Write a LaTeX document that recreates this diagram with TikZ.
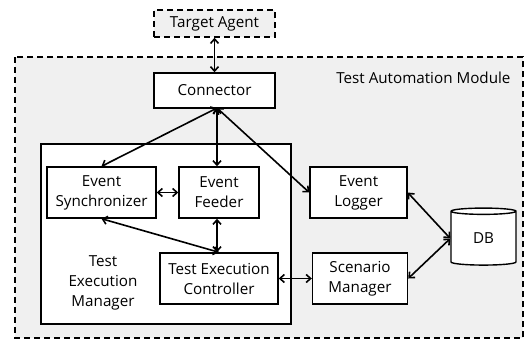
\documentclass[tikz,border=0pt]{standalone}
\usepackage{fontspec}
\setmainfont{Open Sans}
\usetikzlibrary{arrows.meta,shapes.geometric}
\begin{document}
\begin{tikzpicture}[x=1pt,y=-1pt,
  font=\fontsize{15.2}{20}\selectfont,
  box/.style={draw,line width=1.4pt,fill=white,align=center,inner sep=0pt},
  link/.style={line width=1.6pt,{Straight Barb[length=4.5pt,width=8pt]}-{Straight Barb[length=4.5pt,width=8pt]}},
  dashbox/.style={draw,line width=1.5pt,dash pattern=on 6pt off 4pt}
]
\useasboundingbox (0,0) rectangle (529,340);
% outer module
\draw[dashbox,fill=black!6] (15,57) rectangle (523,338);
\node[anchor=east] (tam) at (514,78) {Test Automation Module};
% target agent
\node[box,dashbox,fill=black!6,minimum width=121pt,minimum height=27pt] (ta) at (214.5,23.5) {Target Agent};
% connector
\node[box,minimum width=121pt,minimum height=35pt] (con) at (214.5,90.5) {Connector};
% test execution manager
\node[box,minimum width=250pt,minimum height=180pt] (tem) at (166,234) {};
\node[align=center] (temt) at (103,283) {Test\\Execution\\Manager};
\node[box,minimum width=109pt,minimum height=51pt] (sync) at (101.5,192.5) {Event\\Synchronizer};
\node[box,minimum width=80pt,minimum height=51pt] (feed) at (219,192.5) {Event\\Feeder};
\node[box,minimum width=118pt,minimum height=51pt] (tec) at (219,278.5) {Test Execution\\Controller};
\node[box,minimum width=97pt,minimum height=51pt] (log) at (358.5,192.5) {Event\\Logger};
\node[box,minimum width=95pt,minimum height=51pt] (scen) at (360,278.5) {Scenario\\Manager};
\node[cylinder,shape border rotate=90,draw,line width=1.4pt,fill=white,aspect=0.3,minimum width=65pt,minimum height=57pt,inner sep=0pt] (db) at (483.5,238.5) {DB};
\coordinate (cb) at (217,108);
% connectors
\draw[link] (ta.south) -- (con.north);
\draw[link] (cb) -- (sync.north);
\draw[link] (cb) -- (feed.north -| cb);
\draw[link] (cb) -- (log.west);
\draw[link] (sync.east) -- (feed.west);
\draw[link] (sync.south) -- (tec.north);
\draw[link] (feed.south -| cb) -- (tec.north -| cb);
\draw[link] (tec.east) -- (scen.west);
\draw[link] (log.east) -- (db.west);
\draw[link] (scen.east) -- (db.west);
\end{tikzpicture}
\end{document}
